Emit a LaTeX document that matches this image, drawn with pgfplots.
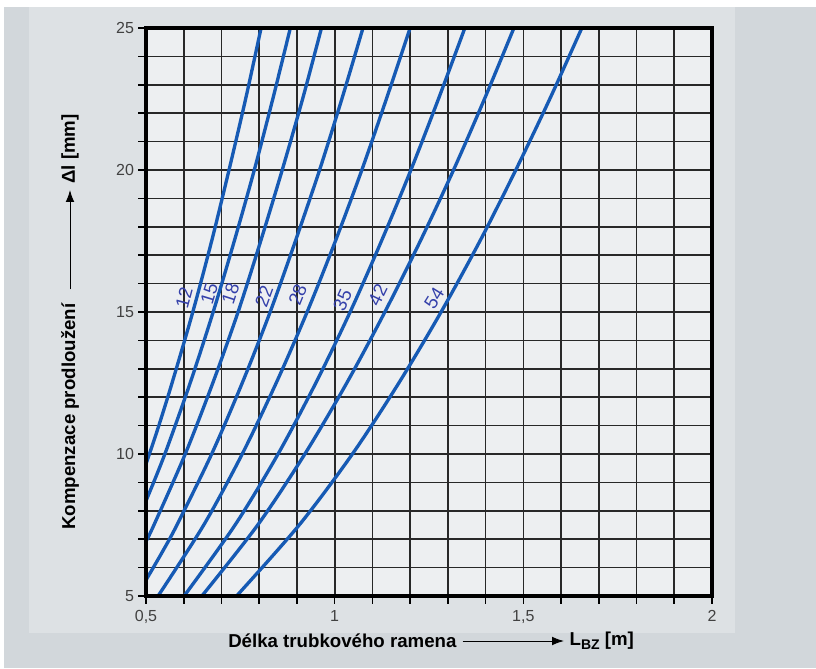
\documentclass[border=0pt]{standalone}
\usepackage{pgfplots}
\pgfplotsset{compat=1.18}
\usepackage{fontspec}
\setmainfont{Liberation Sans}
\usetikzlibrary{arrows.meta}

\definecolor{pagebg}{RGB}{210,215,219}
\definecolor{panelbg}{RGB}{221,225,228}
\definecolor{plotbg}{RGB}{237,239,241}
\definecolor{gridc}{RGB}{40,40,40}
\definecolor{pipe}{RGB}{22,90,180}
\definecolor{lbl}{RGB}{52,64,170}
\definecolor{tickc}{RGB}{65,65,65}

\pgfplotsset{pipecurve/.style={pipe, line width=2.5pt, solid, smooth, mark=none}}

\begin{document}
\begin{tikzpicture}
% page background
\fill[white] (0pt,0pt) rectangle (612pt,501pt);
\fill[pagebg] (3pt,0pt) rectangle (612pt,495.75pt);
\fill[panelbg] (22pt,26pt) rectangle (551pt,495.75pt);

\begin{axis}[
  at={(109.5pt,54pt)}, anchor=south west,
  scale only axis, width=424.5pt, height=426pt,
  xmin=0.5, xmax=2, ymin=5, ymax=25,
  axis background/.style={fill=plotbg},
  xtick={0.5,0.6,0.7,0.8,0.9,1,1.1,1.2,1.3,1.4,1.5,1.6,1.7,1.8,1.9,2},
  xticklabels={{0,5},,,,,1,,,,,{1,5},,,,,2},
  ytick={5,6,7,8,9,10,11,12,13,14,15,16,17,18,19,20,21,22,23,24,25},
  yticklabels={5,,,,,10,,,,,15,,,,,20,,,,,25},
  grid=major,
  major grid style={gridc, line width=1.25pt},
  axis line style={black, line width=2.2pt},
  major tick style={black, line width=1.2pt},
  major tick length=5.5pt,
  tick align=outside,
  tick pos=left,
  xticklabel style={yshift=-2pt},
  ticklabel style={font=\fontsize{12}{13}\selectfont, text=tickc},
  /pgf/number format/assume math mode=true,
  clip=false,
]
% pipe diameter 12
\addplot[pipecurve] coordinates {(0.500,9.65) (0.509,10) (0.534,11) (0.569,12.5) (0.624,15) (0.674,17.5) (0.720,20) (0.764,22.5) (0.805,25)};
% pipe diameter 15
\addplot[pipecurve] coordinates {(0.500,8.35) (0.550,10) (0.617,12.5) (0.678,15) (0.734,17.5) (0.787,20) (0.836,22.5) (0.8825,25)};
% pipe diameter 18
\addplot[pipecurve] coordinates {(0.500,6.925) (0.521,7.5) (0.604,10) (0.677,12.5) (0.744,15) (0.804,17.5) (0.861,20) (0.915,22.5) (0.965,25)};
% pipe diameter 22
\addplot[pipecurve] coordinates {(0.500,5.562) (0.541,6.5) (0.582,7.5) (0.674,10) (0.755,12.5) (0.829,15) (0.896,17.5) (0.960,20) (1.019,22.5) (1.075,25)};
% pipe diameter 28
\addplot[pipecurve] coordinates {(0.532,5) (0.653,7.5) (0.755,10) (0.845,12.5) (0.927,15) (1.002,17.5) (1.072,20) (1.137,22.5) (1.200,25)};
% pipe diameter 35
\addplot[pipecurve] coordinates {(0.601,5) (0.736,7.5) (0.850,10) (0.950,12.5) (1.041,15) (1.124,17.5) (1.202,20) (1.275,22.5) (1.345,25)};
% pipe diameter 42
\addplot[pipecurve] coordinates {(0.648,5) (0.796,7.5) (0.921,10) (1.032,12.5) (1.133,15) (1.227,17.5) (1.315,20) (1.397,22.5) (1.475,25)};
% pipe diameter 54
\addplot[pipecurve] coordinates {(0.740,5) (0.906,7.5) (1.047,10) (1.170,12.5) (1.282,15) (1.385,17.5) (1.480,20) (1.570,22.5) (1.655,25)};

% heavy frame round the plot area
\draw[black, line width=2.3pt] (rel axis cs:0,0) rectangle (rel axis cs:1,1);
% outward tick marks
\pgfplotsinvokeforeach{0.5,0.6,0.7,0.8,0.9,1,1.1,1.2,1.3,1.4,1.5,1.6,1.7,1.8,1.9,2}{
  \draw[black, line width=1.2pt] (axis cs:#1,5) -- ++(0pt,-6pt);
}
\pgfplotsinvokeforeach{5,6,7,8,9,10,11,12,13,14,15,16,17,18,19,20,21,22,23,24,25}{
  \draw[black, line width=1.2pt] (axis cs:0.5,#1) -- ++(-6pt,0pt);
}

% diameter labels along the curves
\begin{scope}[every node/.style={text=lbl, font=\fontsize{14}{15}\selectfont, inner sep=0pt}]
\node[rotate=75] at (axis cs:0.601,15.50) {12};
\node[rotate=73] at (axis cs:0.668,15.66) {15};
\node[rotate=72] at (axis cs:0.724,15.66) {18};
\node[rotate=70] at (axis cs:0.813,15.54) {22};
\node[rotate=68] at (axis cs:0.902,15.60) {28};
\node[rotate=66] at (axis cs:1.021,15.42) {35};
\node[rotate=64] at (axis cs:1.114,15.60) {42};
\node[rotate=58] at (axis cs:1.264,15.48) {54};
\end{scope}
\end{axis}

% x axis title
\node[anchor=west, inner sep=0pt, font=\fontsize{14}{16}\selectfont\bfseries] at (171pt,20.25pt) {Délka trubkového ramena};
\draw[line width=0.7pt, -{Latex[length=9pt,width=6.5pt]}] (347pt,20.25pt) -- (423pt,20.25pt);
\node[anchor=west, inner sep=0pt, font=\fontsize{14}{16}\selectfont\bfseries] at (427pt,20.25pt) {L\raisebox{-0.35ex}{\fontsize{10.5}{11}\selectfont BZ} [m]};

% y axis title
\node[anchor=west, rotate=90, inner sep=0pt, font=\fontsize{14}{16}\selectfont\bfseries] at (52.5pt,103.5pt) {Kompenzace prodloužení};
\draw[line width=0.7pt, -{Latex[length=9pt,width=6.5pt]}] (52.5pt,284pt) -- (52.5pt,358.5pt);
\node[anchor=west, rotate=90, inner sep=0pt, font=\fontsize{14}{16}\selectfont\bfseries] at (52.5pt,363pt) {Δl [mm]};
\end{tikzpicture}
\end{document}
